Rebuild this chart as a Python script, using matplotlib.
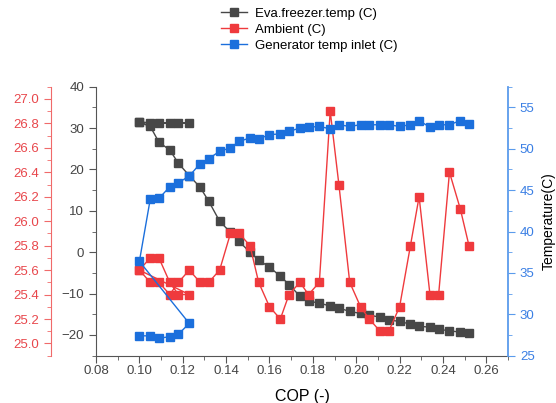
import matplotlib.pyplot as plt
from matplotlib.ticker import MultipleLocator

plt.rcParams['font.family'] = ['Liberation Sans', 'DejaVu Sans']

# COP values: first six points are a separate short run, then the main sweep
cop = [0.100, 0.105, 0.109, 0.114, 0.118, 0.123,
       0.100, 0.105, 0.109, 0.114, 0.118, 0.123, 0.128, 0.132, 0.137, 0.142,
       0.146, 0.151, 0.155, 0.160, 0.165, 0.169, 0.174, 0.178, 0.183, 0.188,
       0.192, 0.197, 0.202, 0.206, 0.211, 0.215, 0.220, 0.225, 0.229, 0.234,
       0.238, 0.243, 0.248, 0.252]

eva_temp = [31.4, 31.2, 31.2, 31.2, 31.2, 31.2,
            31.4, 30.4, 26.6, 24.7, 21.5, 18.5, 15.7, 12.3, 7.5, 4.8,
            2.6, 0.0, -1.9, -3.6, -5.8, -7.8, -10.6, -11.8, -12.3, -13.0,
            -13.5, -14.3, -14.8, -15.2, -15.7, -16.4, -16.7, -17.4, -17.9, -18.1,
            -18.6, -19.0, -19.3, -19.4]

ambient = [25.6, 25.7, 25.7, 25.5, 25.4, 25.4,
           25.6, 25.5, 25.5, 25.4, 25.5, 25.6, 25.5, 25.5, 25.6, 25.9,
           25.9, 25.8, 25.5, 25.3, 25.2, 25.4, 25.5, 25.4, 25.5, 26.9,
           26.3, 25.5, 25.3, 25.2, 25.1, 25.1, 25.3, 25.8, 26.2, 25.4,
           25.4, 26.4, 26.1, 25.8]

gen_inlet = [27.4, 27.4, 27.1, 27.3, 27.6, 28.9,
             36.4, 43.9, 44.0, 45.4, 45.9, 46.7, 48.2, 48.8, 49.7, 50.1,
             50.9, 51.3, 51.2, 51.7, 51.8, 52.1, 52.5, 52.6, 52.7, 52.4,
             52.9, 52.7, 52.9, 52.9, 52.9, 52.9, 52.7, 52.9, 53.4, 52.6,
             52.9, 52.9, 53.4, 53.0]

black = '#474747'
red = '#ef3a3d'
blue = '#1b6fdc'
gray_axis = '#555555'
red_axis = '#f06a6a'
blue_axis = '#5b9bec'

fig = plt.figure(figsize=(5.56, 4.03), dpi=100)
ax = fig.add_axes([0.1727, 0.1174, 0.741, 0.6675])
ax_red = ax.twinx()
ax_blue = ax.twinx()

l1, = ax.plot(cop, eva_temp, color=black, lw=1, marker='s', ms=5.6,
              label='Eva.freezer.temp (C)')
l2, = ax_red.plot(cop, ambient, color=red, lw=1, marker='s', ms=5.6,
                  label='Ambient (C)')
l3, = ax_blue.plot(cop, gen_inlet, color=blue, lw=1, marker='s', ms=5.6,
                   label='Generator temp inlet (C)')

ax.set_xlim(0.08, 0.27)
ax.set_ylim(-25, 40)
ax_red.set_ylim(24.9, 27.1)
ax_blue.set_ylim(25, 57.5)

ax.xaxis.set_major_locator(MultipleLocator(0.02))
ax.xaxis.set_minor_locator(MultipleLocator(0.01))
ax.yaxis.set_major_locator(MultipleLocator(10))
ax.yaxis.set_minor_locator(MultipleLocator(5))
ax_red.yaxis.set_major_locator(MultipleLocator(0.2))
ax_red.yaxis.set_minor_locator(MultipleLocator(0.1))
ax_blue.yaxis.set_major_locator(MultipleLocator(5))
ax_blue.yaxis.set_minor_locator(MultipleLocator(2.5))
ax.xaxis.set_major_formatter(plt.FormatStrFormatter('%.2f'))
ax_red.yaxis.set_major_formatter(plt.FormatStrFormatter('%.1f'))

# main axes: gray left spine, bottom spine
for s in ['top', 'right']:
    ax.spines[s].set_visible(False)
ax.spines['left'].set_color(gray_axis)
ax.spines['bottom'].set_color(gray_axis)
ax.tick_params(axis='both', which='both', direction='out', colors=gray_axis,
               labelcolor='#444444', labelsize=9.5)
ax.tick_params(which='major', length=5)
ax.tick_params(which='minor', length=3)
ax.tick_params(axis='x', pad=2)

# red axis, offset to the far left
for s in ['top', 'right', 'bottom']:
    ax_red.spines[s].set_visible(False)
ax_red.spines['left'].set_visible(True)
ax_red.spines['left'].set_position(('axes', -0.109))
ax_red.spines['left'].set_color(red_axis)
ax_red.yaxis.set_ticks_position('left')
ax_red.yaxis.set_label_position('left')
ax_red.tick_params(axis='y', which='both', direction='out', colors=red_axis,
                   labelcolor='#e8474c', labelsize=9.5)
ax_red.tick_params(which='major', length=5)
ax_red.tick_params(which='minor', length=3)

# blue axis on the right
for s in ['top', 'left', 'bottom']:
    ax_blue.spines[s].set_visible(False)
ax_blue.spines['right'].set_color(blue_axis)
ax_blue.spines['right'].set_linewidth(1.3)
ax_blue.tick_params(axis='y', which='both', direction='out', colors=blue_axis,
                    labelcolor='#3a7fe4', labelsize=9.5)
ax_blue.tick_params(which='major', length=5)
ax_blue.tick_params(which='minor', length=3)

ax.set_xlabel('COP (-)', fontsize=11.5, labelpad=8)
ax_blue.set_ylabel('Temperature(C)', fontsize=10, labelpad=5)

fig.legend(handles=[l1, l2, l3], loc='upper left',
           bbox_to_anchor=(0.388, 0.995), frameon=False, fontsize=9.5,
           handlelength=2.0, handletextpad=0.55, labelspacing=0.3,
           borderaxespad=0)

fig.savefig('out.png', dpi=100)
